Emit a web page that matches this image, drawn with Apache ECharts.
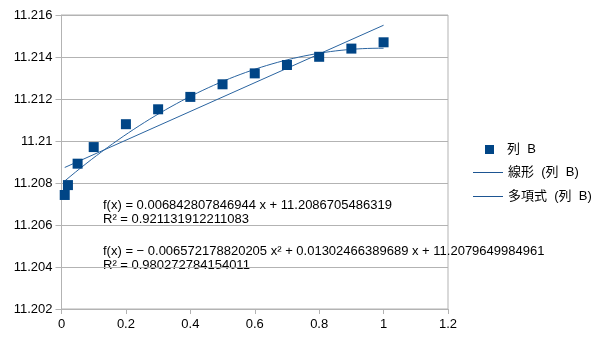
<!DOCTYPE html>
<html>
<head>
<meta charset="utf-8">
<script src="https://cdn.jsdelivr.net/npm/echarts@6/dist/echarts.min.js"></script>
<style>
  html, body { margin: 0; padding: 0; background: #fff; }
  #chart { width: 605px; height: 340px; }
</style>
</head>
<body>
<div id="chart"></div>
<script>
// Measured series "列 B"
const xValues = [0.01, 0.02, 0.05, 0.1, 0.2, 0.3, 0.4, 0.5, 0.6, 0.7, 0.8, 0.9, 1.0];
const yValues = [11.20743, 11.20790, 11.20892, 11.20971, 11.21080, 11.21151, 11.21210,
                 11.21270, 11.21322, 11.21362, 11.21401, 11.21440, 11.21470];

// Trendline coefficients (highest power first), as printed in the equations
const linearCoef = [0.006842807846944, 11.2086705486319];
const polyCoef = [-0.006572178820205, 0.01302466389689, 11.2079649984961];

const seriesName = '列 B';
const linearName = '線形 (列 B)';
const polyName = '多項式 (列 B)';

const eqLinear = ['f(x) = 0.006842807846944 x + 11.2086705486319', 'R² = 0.921131912211083'];
const eqPoly = ['f(x) = − 0.006572178820205 x² + 0.01302466389689 x + 11.2079649984961', 'R² = 0.980272784154011'];

const xTicks = { min: 0, max: 1.2, interval: 0.2 };
const yTicks = { min: 11.202, max: 11.216, interval: 0.002 };

function evalPoly(coef, x) {
  return coef.reduce((acc, c) => acc * x + c, 0);
}

// Trendlines span the x range of the data
const xStart = Math.min(...xValues), xEnd = Math.max(...xValues);
const steps = 60;
const trendX = [];
for (let i = 0; i <= steps; i++) trendX.push(xStart + (xEnd - xStart) * i / steps);

const scatterData = xValues.map((x, i) => [x, yValues[i]]);
const linearData = [[xStart, evalPoly(linearCoef, xStart)], [xEnd, evalPoly(linearCoef, xEnd)]];
const polyData = trendX.map(x => [x, evalPoly(polyCoef, x)]);

const font = '"Liberation Sans", Arial, "Noto Sans CJK JP", sans-serif';
const lineColor = '#2a64a0';
const markColor = '#004586';
// legend labels are spaced a little wider than plain text
const widen = n => n.replace(/ /g, '  ');

const chart = echarts.init(document.getElementById('chart'), null, { renderer: 'canvas' });
chart.setOption({
  animation: false,
  textStyle: { fontFamily: font },
  grid: { left: 61.5, right: 157, top: 15, bottom: 31, show: true, borderColor: '#b3b3b3', borderWidth: 1 },
  xAxis: {
    type: 'value', min: xTicks.min, max: xTicks.max, interval: xTicks.interval,
    axisLine: { show: true, lineStyle: { color: '#b3b3b3' } },
    axisTick: { show: true, length: 5, lineStyle: { color: '#b3b3b3' } },
    splitLine: { show: false },
    axisLabel: { color: '#000', fontSize: 13, margin: 9, fontFamily: font,
      formatter: v => String(parseFloat(v.toFixed(1))) }
  },
  yAxis: {
    type: 'value', min: yTicks.min, max: yTicks.max, interval: yTicks.interval,
    axisLine: { show: true, lineStyle: { color: '#b3b3b3' } },
    axisTick: { show: true, length: 6, lineStyle: { color: '#b3b3b3' } },
    splitLine: { show: true, lineStyle: { color: '#b3b3b3' } },
    axisLabel: { color: '#000', fontSize: 13, margin: 9, fontFamily: font,
      formatter: v => String(parseFloat(v.toFixed(3))) }
  },
  legend: [
    {
      data: [{ name: seriesName, icon: 'rect' }],
      orient: 'vertical', left: 485, top: 143, padding: 0,
      itemWidth: 9, itemHeight: 9, formatter: widen,
      textStyle: { color: '#000', fontSize: 13, fontFamily: font, padding: [0, 0, 0, 8] }
    },
    {
      data: [
        { name: linearName, icon: 'rect', itemStyle: { color: '#1d5592' } },
        { name: polyName, icon: 'rect', itemStyle: { color: '#1d5592' } }
      ],
      orient: 'vertical', left: 473, top: 166, padding: 0,
      itemWidth: 30, itemHeight: 1, itemGap: 11, formatter: widen,
      textStyle: { color: '#000', fontSize: 13, fontFamily: font, padding: [0, 0, 0, 0] }
    }
  ],
  series: [
    {
      name: polyName, type: 'line', data: polyData, showSymbol: false, symbol: 'none',
      smooth: false, lineStyle: { color: lineColor, width: 1 }, itemStyle: { color: lineColor }, z: 2
    },
    {
      name: linearName, type: 'line', data: linearData, showSymbol: false, symbol: 'none',
      lineStyle: { color: lineColor, width: 1 }, itemStyle: { color: lineColor }, z: 2
    },
    {
      name: seriesName, type: 'scatter', data: scatterData, symbol: 'rect', symbolSize: 10,
      itemStyle: { color: markColor, opacity: 1 }, z: 3
    }
  ],
  graphic: [
    { type: 'text', left: 103, top: 198, style: { text: eqLinear.join('\n'), font: '13px ' + font, fill: '#000', lineHeight: 14 } },
    { type: 'text', left: 103, top: 244, style: { text: eqPoly.join('\n'), font: '13px ' + font, fill: '#000', lineHeight: 14 } }
  ]
});
</script>
</body>
</html>
